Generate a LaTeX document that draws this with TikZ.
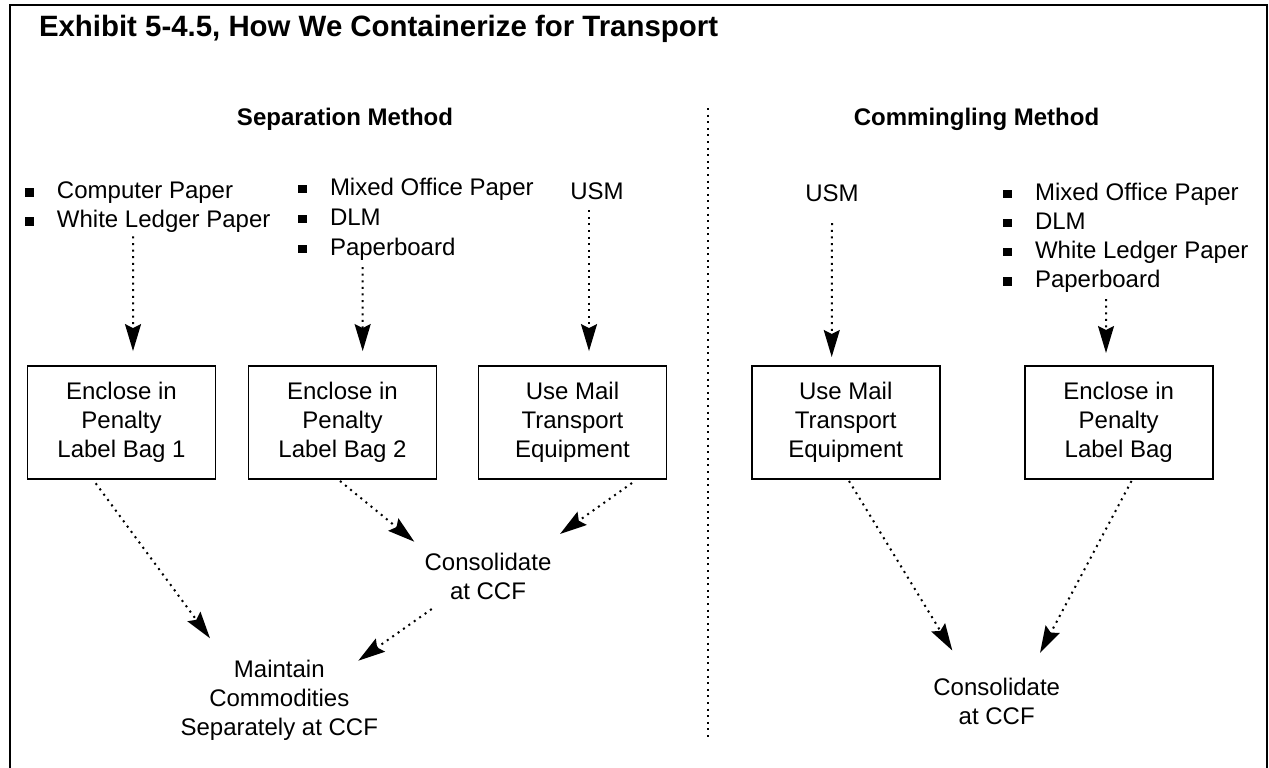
\documentclass[tikz,border=0pt]{standalone}
\usepackage{fontspec}
\setmainfont{Liberation Sans}
\usetikzlibrary{arrows.meta, positioning}

\newcommand{\listmark}{\makebox[32pt][l]{\rule[2pt]{8.5pt}{8.5pt}}}

\begin{document}
\begin{tikzpicture}[x=1pt, y=-1pt, >={Stealth[length=27pt, width=16pt, inset=4pt]},
  every node/.style={inner sep=0pt, outer sep=0pt, font=\fontsize{24}{29}\selectfont},
  head/.style={anchor=base, font=\bfseries\fontsize{24}{29}\selectfont},
  box/.style={draw, rectangle, line width=1.6pt, minimum width=188pt, minimum height=113pt, align=center},
  flow/.style={->, line width=2pt, dash pattern=on 2pt off 4.6pt},
  divider/.style={line width=2pt, dash pattern=on 2pt off 4.6pt},
  frame/.style={line width=2pt}]
\useasboundingbox (0,0) rectangle (1269,768);

% Frame
\draw[frame] (10,768) -- (10,5) -- (1267,5) -- (1267,768);
\draw[divider] (707.7,108) -- (707.7,740);

% Headings
\node[anchor=base west, font=\bfseries\fontsize{29.4}{35}\selectfont] (title) at (39,37) {Exhibit 5-4.5, How We Containerize for Transport};
\node[head] (sephead) at (345,125) {Separation Method};
\node[head] (comhead) at (976.5,125) {Commingling Method};

% Sources
\node[anchor=north west, align=left] (list1) at (25,182) {\listmark Computer Paper\\\listmark White Ledger Paper};
\node[anchor=north west, align=left, font=\fontsize{24}{30}\selectfont] (list2) at (298,177.7) {\listmark Mixed Office Paper\\\listmark DLM\\\listmark Paperboard};
\node[anchor=base] (usmL) at (597,199) {USM};
\node[anchor=base] (usmR) at (832,201.7) {USM};
\node[anchor=north west, align=left, font=\fontsize{24}{29.2}\selectfont] (list5) at (1003,182.7) {\listmark Mixed Office Paper\\\listmark DLM\\\listmark White Ledger Paper\\\listmark Paperboard};

% Containers
\node[box] (bag1) at (121.5,422.6) {Enclose in\\Penalty\\Label Bag 1};
\node[box, right=33pt of bag1] (bag2) {Enclose in\\Penalty\\Label Bag 2};
\node[box, right=42pt of bag2] (mteL) {Use Mail\\Transport\\Equipment};
\node[box] (mteR) at (845.7,422.2) {Use Mail\\Transport\\Equipment};
\node[box, right=85pt of mteR] (bagR) {Enclose in\\Penalty\\Label Bag};

% Destinations
\node[anchor=north, align=center] (consL) at (488,552.7) {Consolidate\\at CCF};
\node[anchor=north, align=center] (keep) at (279.3,660) {Maintain\\Commodities\\Separately at CCF};
\node[anchor=north, align=center] (consR) at (996.7,677.7) {Consolidate\\at CCF};

% Arrows
\draw[flow] ([xshift=-14.7pt, yshift=-3.7pt]list1.south) -- ([xshift=11.5pt, yshift=15pt]bag1.north);
\draw[flow] ([xshift=-53.3pt, yshift=-7pt]list2.south) -- ([xshift=20.2pt, yshift=15pt]bag2.north);
\draw[flow] ([xshift=-8pt, yshift=-11pt]usmL.south) -- ([xshift=16.5pt, yshift=15pt]mteL.north);
\draw[flow] ([yshift=-21.3pt]usmR.south) -- ([xshift=-14pt, yshift=8.7pt]mteR.north);
\draw[flow] ([xshift=-19.7pt, yshift=-6.4pt]list5.south) -- ([xshift=-12.7pt, yshift=12.7pt]bagR.north);
\draw[flow] ([xshift=-25.8pt, yshift=-4.2pt]bag1.south) -- ([xshift=-69.3pt, yshift=21.7pt]keep.north);
\draw[flow] ([xshift=-2.5pt, yshift=-1.9pt]bag2.south) -- ([xshift=-73.7pt, yshift=11pt]consL.north);
\draw[flow] ([xshift=59.5pt, yshift=-3.9pt]mteL.south) -- ([xshift=72pt, yshift=18.7pt]consL.north);
\draw[flow] ([xshift=-56.3pt, yshift=-9.7pt]consL.south) -- ([xshift=79pt, yshift=-0.7pt]keep.north);
\draw[flow] ([xshift=3.3pt, yshift=-2.3pt]mteR.south) -- ([xshift=-44.4pt, yshift=27.2pt]consR.north);
\draw[flow] ([xshift=12.8pt, yshift=-2.3pt]bagR.south) -- ([xshift=43.3pt, yshift=24.7pt]consR.north);
\end{tikzpicture}
\end{document}
